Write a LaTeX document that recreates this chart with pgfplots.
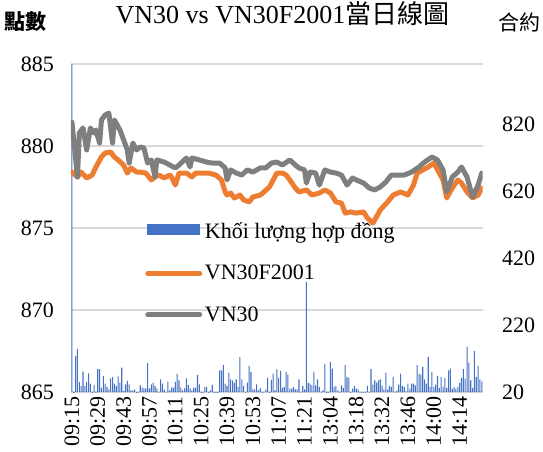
\documentclass[border=0pt]{standalone}
\usepackage{fontspec}
\setmainfont{Liberation Serif}
\newfontfamily\cjk{Noto Sans CJK TC}
\usepackage{pgfplots}
\pgfplotsset{compat=1.18}
\definecolor{barblue}{HTML}{4472C4}
\definecolor{lorange}{HTML}{ED7D31}
\definecolor{lgray}{HTML}{7F7F7F}
\definecolor{gridc}{HTML}{D9D9D9}
\begin{document}
\begin{tikzpicture}
\pgfplotsset{
  common/.style={
    scale only axis, width=308.8pt, height=246pt,
    at={(0pt,0pt)}, anchor=south west,
    xmin=-0.5, xmax=222.5,
    /pgf/number format/assume math mode=true,
    tick label style={font=\fontsize{16.5}{18}\selectfont},
    major tick length=0pt,
  }
}
% grid, left axis, x labels
\begin{axis}[common,
  ymin=865, ymax=885, ytick={865,870,...,885},
  ymajorgrids, grid style={gridc, line width=1.1pt},
  axis line style={draw=none},
  yticklabel style={anchor=east, xshift=-9.4pt},
  xtick={0,14,...,210},
  xticklabels={09:15,09:29,09:43,09:57,10:11,10:25,10:39,10:53,11:07,11:21,13:04,13:18,13:32,13:46,14:00,14:14},
  xticklabel style={rotate=90, anchor=east},
]
\end{axis}
% volume bars, right axis
\begin{axis}[common,
  ymin=20, ymax=1000, ytick={20,220,...,820},
  axis y line*=right, axis x line=none,
  axis line style={draw=none},
  yticklabel style={anchor=west, xshift=11pt},
]
\addplot[ybar, bar width=0.8pt, fill=barblue, draw=none] coordinates {
(0,1050)(1,15)(2,128)(3,148)(4,50)(5,38)(6,81)(7,38)(8,50)(9,76)(10,45)(11,15)(12,41)(13,15)(14,88)(15,88)(16,33)(17,68)(18,45)(19,35)
(20,28)(21,61)(22,65)(23,45)(24,38)(25,67)(26,48)(27,93)(28,23)(29,43)(30,53)(31,43)(32,25)(33,25)(34,28)(35,15)(36,18)(37,40)(38,33)(39,31)
(40,31)(41,106)(42,31)(43,43)(44,48)(45,38)(46,31)(47,18)(48,58)(49,45)(50,27)(51,18)(52,51)(53,25)(54,33)(55,33)(56,50)(57,74)(58,55)(59,33)
(60,25)(61,31)(62,61)(63,41)(64,31)(65,25)(66,33)(67,33)(68,71)(69,43)(70,12)(71,12)(72,35)(73,35)(74,14)(75,25)(76,41)(77,12)(78,12)(79,12)
(80,85)(81,85)(82,101)(83,45)(84,38)(85,78)(86,58)(87,55)(88,48)(89,58)(90,35)(91,125)(92,58)(93,38)(94,18)(95,48)(96,98)(97,80)(98,28)(99,28)
(100,43)(101,25)(102,31)(103,12)(104,18)(105,28)(106,63)(107,12)(108,56)(109,75)(110,25)(111,88)(112,62)(113,83)(114,32)(115,35)(116,80)(117,72)(118,30)(119,30)
(120,35)(121,28)(122,28)(123,58)(124,18)(125,38)(126,28)(127,349)(128,47)(129,45)(130,40)(131,80)(132,40)(133,58)(134,35)(135,18)(136,25)(137,104)(138,15)(139,18)
(140,110)(141,90)(142,35)(143,38)(144,25)(145,18)(146,40)(147,32)(148,100)(149,65)(150,62)(151,18)(152,30)(153,38)(154,30)(155,28)(156,18)(157,12)(158,18)(159,18)
(160,38)(161,18)(162,88)(163,42)(164,55)(165,48)(166,55)(167,58)(168,40)(169,28)(170,78)(171,28)(172,38)(173,35)(174,65)(175,18)(176,25)(177,42)(178,75)(179,38)
(180,35)(181,22)(182,45)(183,30)(184,45)(185,45)(186,40)(187,100)(188,75)(189,72)(190,95)(191,58)(192,45)(193,125)(194,35)(195,80)(196,35)(197,42)(198,68)(199,32)
(200,65)(201,35)(202,62)(203,32)(204,85)(205,90)(206,30)(207,35)(208,30)(209,35)(210,47)(211,62)(212,88)(213,60)(214,155)(215,108)(216,55)(217,32)(218,142)(219,65)
(220,98)(221,58)(222,52)
};
\end{axis}
% price lines
\begin{axis}[common,
  ymin=865, ymax=885, hide axis,
  legend image code/.code={\draw[#1] (0pt,0pt) -- (39pt,0pt);},
  legend style={at={(rel axis cs:0.17,0.363)}, anchor=west, draw=none, fill=none,
    font=\fontsize{16.5}{18}\selectfont, row sep=14.5pt},
  legend cell align=left,
]
\addlegendimage{legend image code/.code={\fill[barblue] (0pt,-2.25pt) rectangle (39pt,5.25pt);}}
\addlegendentry{Khối lượng hợp đồng}
\addplot[lorange, line width=3.75pt, line join=round, line cap=round] coordinates {
(0,878.41)(3,878.11)(5,878.41)(8,878.05)(11,878.23)(13,878.72)(16,879.33)(18,879.57)(21,879.63)(23,879.33)(25,879.15)(28,878.84)(30,878.35)(32,878.66)(35,878.41)(37,878.41)(40,878.35)(43,877.93)(45,878.11)(47,878.23)(50,878.05)(53,878.23)(54,878.11)(56,877.62)(58,878.35)(62,878.35)(65,878.11)(67,878.35)(71,878.35)(74,878.35)(78,878.23)(81,877.93)(83,877.20)(84,877.01)(86,877.13)(88,876.83)(91,877.01)(93,876.71)(96,876.59)(98,876.89)(102,877.01)(104,877.20)(107,877.50)(109,877.93)(111,878.35)(114,878.35)(116,878.23)(118,877.93)(121,877.44)(123,877.20)(127,877.32)(130,877.01)(134,877.13)(137,877.32)(140,877.13)(143,876.59)(146,876.52)(148,875.91)(151,875.98)(154,875.91)(158,875.98)(160,875.61)(163,875.30)(164,875.49)(167,876.10)(171,876.59)(174,877.01)(178,877.20)(182,877.01)(185,877.62)(187,878.35)(190,878.54)(193,878.72)(196,878.96)(199,878.35)(201,877.93)(203,876.83)(206,877.44)(209,877.93)(211,877.74)(214,877.20)(217,876.83)(220,877.01)(222,877.44)
};
\addlegendentry{VN30F2001}
\addplot[lgray, line width=3.75pt, line join=round, line cap=round] coordinates {
(0,881.46)(3,878.11)(4,880.79)(6,881.10)(8,879.76)(10,881.10)(12,880.79)(13,880.98)(15,880.18)(16,881.59)(18,881.89)(20,882.01)(22,880.18)(23,881.59)(26,880.98)(28,880.37)(30,879.76)(31,878.96)(33,880.18)(35,879.76)(37,879.94)(39,879.88)(41,878.96)(43,879.15)(45,878.11)(46,879.15)(50,879.02)(53,878.84)(56,878.66)(58,878.84)(62,879.27)(64,878.72)(65,879.27)(69,879.15)(73,879.02)(76,878.96)(80,878.96)(83,878.66)(84,877.93)(86,878.54)(89,878.35)(92,878.23)(95,878.54)(98,878.41)(102,878.66)(105,878.66)(108,878.96)(111,879.02)(114,878.84)(118,879.15)(121,878.84)(123,878.66)(126,878.54)(127,877.74)(129,878.41)(132,878.35)(134,877.62)(137,878.54)(140,878.41)(143,878.35)(146,878.23)(149,877.62)(152,878.05)(154,877.93)(158,877.74)(161,877.44)(164,877.32)(167,877.50)(170,877.80)(173,878.23)(177,878.23)(180,878.23)(184,878.41)(188,878.72)(191,879.02)(195,879.33)(198,879.15)(201,878.54)(203,877.20)(206,878.11)(209,878.41)(211,878.72)(214,878.11)(217,876.89)(220,877.62)(222,878.35)
};
\addlegendentry{VN30}
\end{axis}
\node[anchor=base, inner sep=0pt] at (158.6pt,276.75pt) {\fontsize{19.5}{20}\selectfont VN30 vs VN30F2001{\cjk 當日線圖}};
\node[inner sep=0pt] at (-33.75pt,277.5pt) {\cjk\bfseries\fontsize{15.75}{16}\selectfont 點數};
\node[inner sep=0pt] at (336pt,277.5pt) {\cjk\fontsize{15.75}{16}\selectfont 合約};
\pgfresetboundingbox
\path[use as bounding box] (-53.25pt,-44.25pt) rectangle (354pt,294pt);
\end{tikzpicture}
\end{document}
